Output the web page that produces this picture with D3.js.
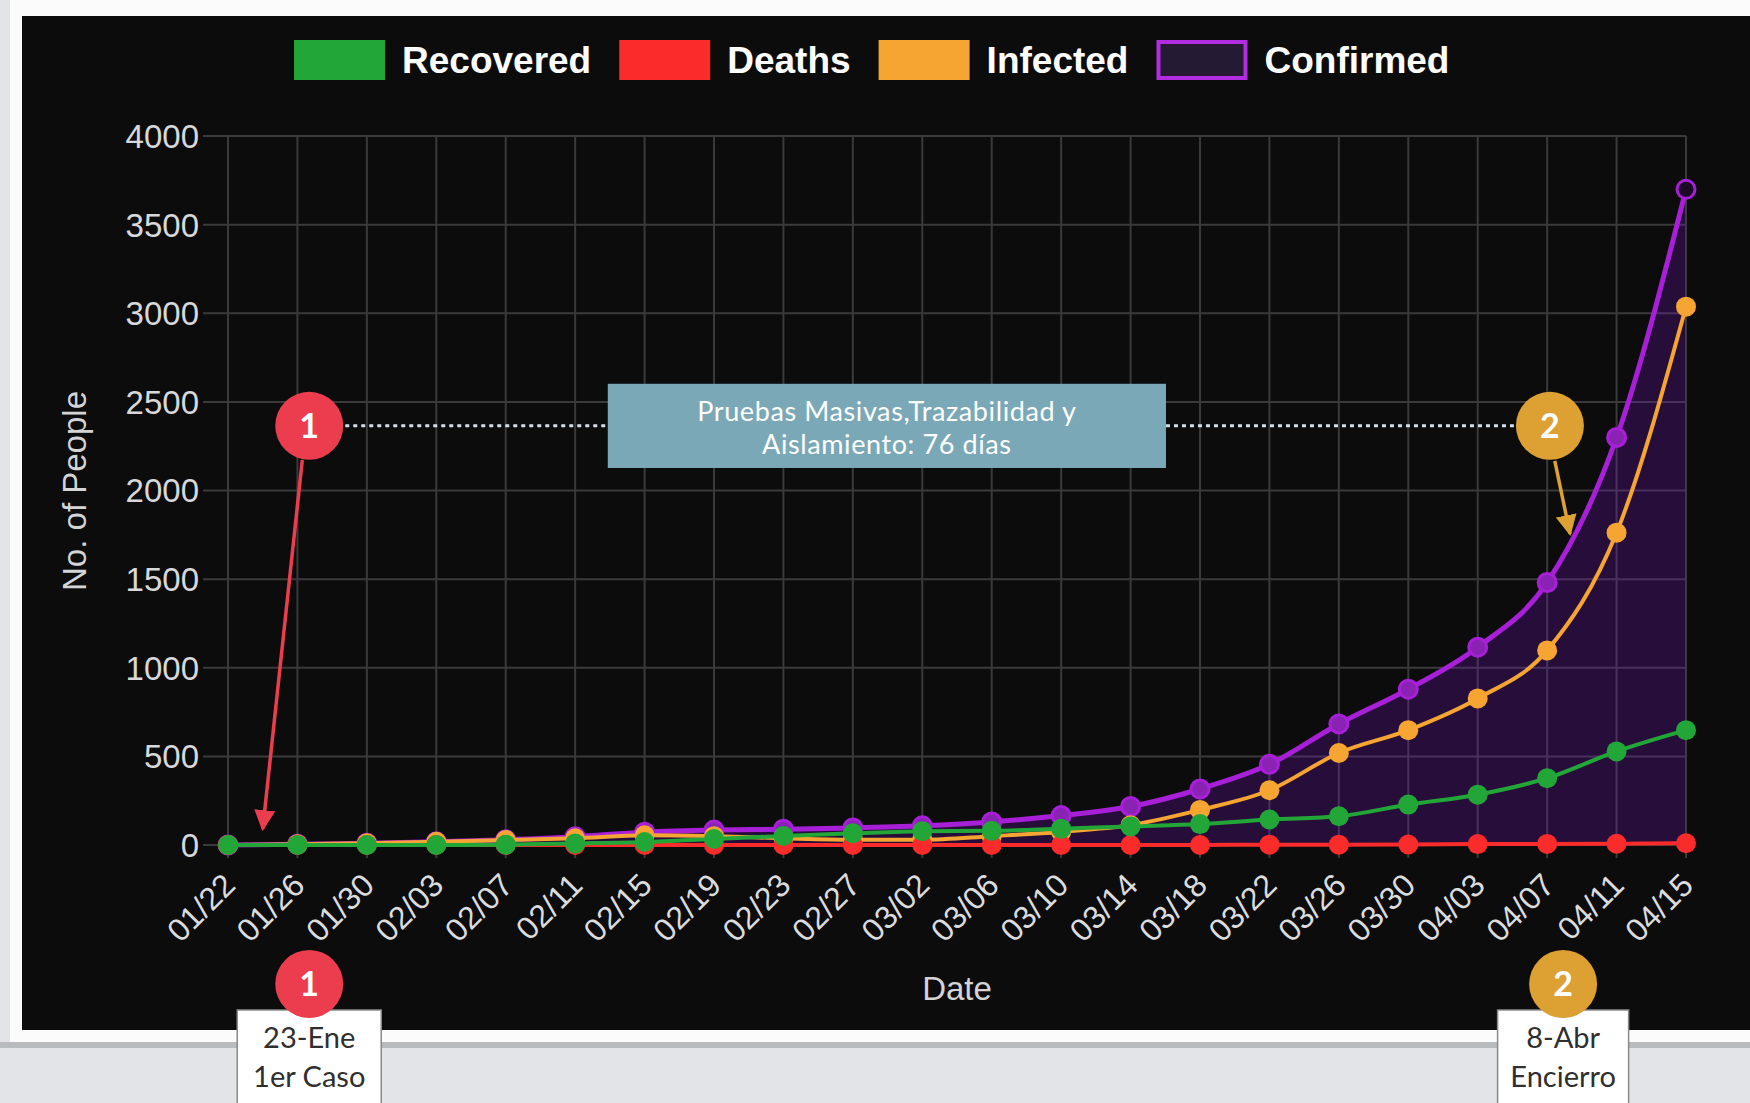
<!DOCTYPE html>
<html>
<head>
<meta charset="utf-8">
<script src="https://cdn.jsdelivr.net/npm/d3@7"></script>
<style>
  html, body { margin: 0; padding: 0; background: #e2e4e8; }
  svg { display: block; }
</style>
</head>
<body>
<svg width="1750" height="1103"></svg>
<script>
// values, one point every 4 days
const dates = ["01/22", "01/26", "01/30", "02/03", "02/07", "02/11", "02/15", "02/19", "02/23", "02/27", "03/02",
    "03/06", "03/10", "03/14", "03/18", "03/22", "03/26", "03/30", "04/03", "04/07", "04/11", "04/15"]
const recovered = [0, 0, 0, 0, 2, 9, 17, 34, 51, 66, 78, 80, 92, 105, 118, 144, 162, 228, 284, 377, 528, 648]
const deaths = [0, 0, 0, 0, 0, 0, 0, 0, 0, 0, 0, 0, 0, 0, 0, 2, 2, 3, 5, 6, 7, 10]
const infected = [0, 4, 10, 18, 28, 38, 55, 50, 38, 30, 30, 50, 74, 112, 198, 309, 519, 648, 827, 1098, 1762, 3037]
const confirmed = [0, 4, 10, 18, 30, 47, 72, 84, 89, 96, 108, 130, 166, 217, 316, 455, 683, 879, 1116, 1481, 2299, 3699]

const seriesNames = ["Recovered", "Deaths", "Infected", "Confirmed"]
const seriesColors = ["#22a637", "#fa2b2b", "#f7a532", "#a81fd8"]
const yTicks = [0, 500, 1000, 1500, 2000, 2500, 3000, 3500, 4000]

const noteLines = ["Pruebas Masivas,Trazabilidad y", "Aislamiento: 76 días"]
const eventLabels = [["23-Ene", "1er Caso"], ["8-Abr", "Encierro"]]
const eventNumbers = ["1", "2"]
const eventColors = ["#ec3d4f", "#dda032"]

const svg = d3.select('svg')
const W = 1750, H = 1103

// page frame
svg.append('rect').attr('x', 10).attr('y', 0).attr('width', W).attr('height', 1042).attr('fill', '#fbfbfb')
svg.append('rect').attr('x', 0).attr('y', 1042).attr('width', W).attr('height', 6).attr('fill', '#b9bcbf')
svg.append('rect').attr('x', 22).attr('y', 16).attr('width', W - 22).attr('height', 1014).attr('fill', '#0c0c0d')

const x = d3.scalePoint().domain(dates).range([228, 1686])
const y = d3.scaleLinear().domain([0, 4000]).range([845, 136])
const xAt = i => x(dates[0]) + i * x.step()

// grid
svg.append('g').selectAll('line.h')
    .data(yTicks)
    .enter()
    .append('line')
    .attr('x1', 203).attr('x2', 1686)
    .attr('y1', d => y(d)).attr('y2', d => y(d))
    .attr('stroke', '#3a3a3c').attr('stroke-width', 2)

svg.append('g').selectAll('line.v')
    .data(dates)
    .enter()
    .append('line')
    .attr('x1', d => x(d)).attr('x2', d => x(d))
    .attr('y1', y(4000)).attr('y2', y(0) + 13)
    .attr('stroke', '#3a3a3c').attr('stroke-width', 2)

// y tick labels
svg.append('g').selectAll('text')
    .data(yTicks)
    .enter()
    .append('text')
    .attr('x', 199).attr('y', d => y(d))
    .attr('dy', '0.36em')
    .attr('text-anchor', 'end')
    .attr('font-family', 'Liberation Sans, Arial, sans-serif')
    .attr('font-size', 33)
    .attr('fill', '#d8d8d8')
    .text(d => d)

// x tick labels
svg.append('g').selectAll('text')
    .data(dates)
    .enter()
    .append('text')
    .attr('transform', d => `translate(${x(d) + 1},${y(0) + 34}) rotate(-45)`)
    .attr('dy', '0.36em')
    .attr('text-anchor', 'end')
    .attr('font-family', 'Liberation Sans, Arial, sans-serif')
    .attr('font-size', 32)
    .attr('fill', '#dcdcdc')
    .text(d => d)

// axis titles
svg.append('text')
    .attr('x', 957).attr('y', 988).attr('dy', '0.36em')
    .attr('text-anchor', 'middle')
    .attr('font-family', 'Liberation Sans, Arial, sans-serif')
    .attr('font-size', 33)
    .attr('fill', '#d4d4d4')
    .text('Date')

svg.append('text')
    .attr('transform', 'translate(74,491) rotate(-90)')
    .attr('dy', '0.36em')
    .attr('text-anchor', 'middle')
    .attr('font-family', 'Liberation Sans, Arial, sans-serif')
    .attr('font-size', 33)
    .attr('fill', '#d4d4d4')
    .text('No. of People')

// series, drawn so the first legend entry ends on top
const series = [recovered, deaths, infected, confirmed]
const line = d3.line().x((d, i) => x(dates[i])).y(d => y(d)).curve(d3.curveMonotoneX)
const area = d3.area().x((d, i) => x(dates[i])).y0(y(0)).y1(d => y(d)).curve(d3.curveMonotoneX)

svg.append('path')
    .attr('d', area(confirmed))
    .attr('fill', 'rgba(120, 24, 190, 0.26)')

for (let s = series.length - 1; s >= 0; s--) {
    const g = svg.append('g')
    g.append('path')
        .attr('d', line(series[s]))
        .attr('fill', 'none')
        .attr('stroke', seriesColors[s])
        .attr('stroke-width', s === 3 ? 5 : 4)
    g.selectAll('circle')
        .data(series[s])
        .enter()
        .append('circle')
        .attr('cx', (d, i) => x(dates[i]))
        .attr('cy', d => y(d))
        .attr('r', s === 3 ? 9 : 10)
        .attr('fill', (d, i) => s === 3 ? (i === dates.length - 1 ? '#1a0a26' : '#8a22b4') : seriesColors[s])
        .attr('stroke', s === 3 ? seriesColors[s] : 'none')
        .attr('stroke-width', 3)
}

// legend
const legend = svg.append('g')
let lx = 294
seriesNames.forEach((name, i) => {
    const isConf = i === 3
    legend.append('rect')
        .attr('x', isConf ? lx + 2 : lx).attr('y', isConf ? 42 : 40)
        .attr('width', isConf ? 87 : 91).attr('height', isConf ? 36 : 40)
        .attr('fill', isConf ? '#241a33' : seriesColors[i])
        .attr('stroke', isConf ? '#b22de2' : 'none')
        .attr('stroke-width', 4)
    const t = legend.append('text')
        .attr('x', lx + 108).attr('y', 60).attr('dy', '0.36em')
        .attr('font-family', 'Liberation Sans, Arial, sans-serif')
        .attr('font-weight', 'bold')
        .attr('font-size', 37)
        .attr('fill', '#ffffff')
        .text(name)
    lx += 108 + t.node().getComputedTextLength() + 28
})

// annotation: dotted span between the two events
const markY = y(2365)
const c1 = xAt(1.17), c2 = xAt(19.04)
const boxL = xAt(5.47), boxR = xAt(13.51)
svg.append('line').attr('x1', c1 + 36).attr('x2', boxL).attr('y1', markY).attr('y2', markY)
    .attr('stroke', '#cfe0ea').attr('stroke-width', 3).attr('stroke-dasharray', '4 4')
svg.append('line').attr('x1', boxR).attr('x2', c2 - 36).attr('y1', markY).attr('y2', markY)
    .attr('stroke', '#cfe0ea').attr('stroke-width', 3).attr('stroke-dasharray', '4 4')

svg.append('rect')
    .attr('x', boxL).attr('y', y(2602))
    .attr('width', boxR - boxL).attr('height', y(2127) - y(2602))
    .attr('fill', '#7aa8b6')
svg.append('g').selectAll('text')
    .data(noteLines)
    .enter()
    .append('text')
    .attr('x', (boxL + boxR) / 2)
    .attr('y', (d, i) => markY - 15 + i * 33)
    .attr('dy', '0.36em')
    .attr('text-anchor', 'middle')
    .attr('font-family', 'Lato, Open Sans, sans-serif')
    .attr('font-size', 27)
    .attr('letter-spacing', 0.6)
    .attr('fill', '#ffffff')
    .text(d => d)

// arrows
const defs = svg.append('defs')
eventColors.forEach((c, i) => {
    defs.append('marker')
        .attr('id', 'arrow' + i)
        .attr('viewBox', '0 0 10 10')
        .attr('refX', 9).attr('refY', 5)
        .attr('markerWidth', 6).attr('markerHeight', 6)
        .attr('orient', 'auto')
        .attr('markerUnits', 'strokeWidth')
        .append('path')
        .attr('d', 'M0,0 L10,5 L0,10 z')
        .attr('fill', c)
})
svg.append('line')
    .attr('x1', xAt(1.07)).attr('y1', y(2172))
    .attr('x2', xAt(0.5)).attr('y2', y(90))
    .attr('stroke', eventColors[0]).attr('stroke-width', 3.5)
    .attr('marker-end', 'url(#arrow0)')
svg.append('line')
    .attr('x1', xAt(19.11)).attr('y1', y(2167))
    .attr('x2', xAt(19.33)).attr('y2', y(1755))
    .attr('stroke', eventColors[1]).attr('stroke-width', 3.5)
    .attr('marker-end', 'url(#arrow1)')

// numbered event badges in the plot
const badge = (cx, cy, i) => {
    svg.append('circle').attr('cx', cx).attr('cy', cy).attr('r', 34).attr('fill', eventColors[i])
    svg.append('text')
        .attr('x', cx).attr('y', cy).attr('dy', '0.36em')
        .attr('text-anchor', 'middle')
        .attr('font-family', 'Lato, Open Sans, sans-serif')
        .attr('font-weight', 'bold')
        .attr('font-size', 34)
        .attr('fill', '#ffffff')
        .text(eventNumbers[i])
}

// event captions under the chart
const caption = (cx, i) => {
    const bw = i === 0 ? 144 : 131
    svg.append('rect')
        .attr('x', cx - bw / 2).attr('y', 1010)
        .attr('width', bw).attr('height', 100)
        .attr('fill', '#ffffff').attr('stroke', '#8a8a8a').attr('stroke-width', 1.5)
    svg.append('g').selectAll('text')
        .data(eventLabels[i])
        .enter()
        .append('text')
        .attr('x', cx)
        .attr('y', (d, j) => 1048 + j * 39)
        .attr('text-anchor', 'middle')
        .attr('font-family', 'Lato, Open Sans, sans-serif')
        .attr('font-size', 29)
        .attr('fill', '#2f2f2f')
        .text(d => d)
}

caption(c1, 0)
caption(xAt(19.23), 1)
badge(c1, markY, 0)
badge(c2, markY, 1)
badge(c1, 984, 0)
badge(xAt(19.23), 984, 1)
</script>
</body>
</html>
